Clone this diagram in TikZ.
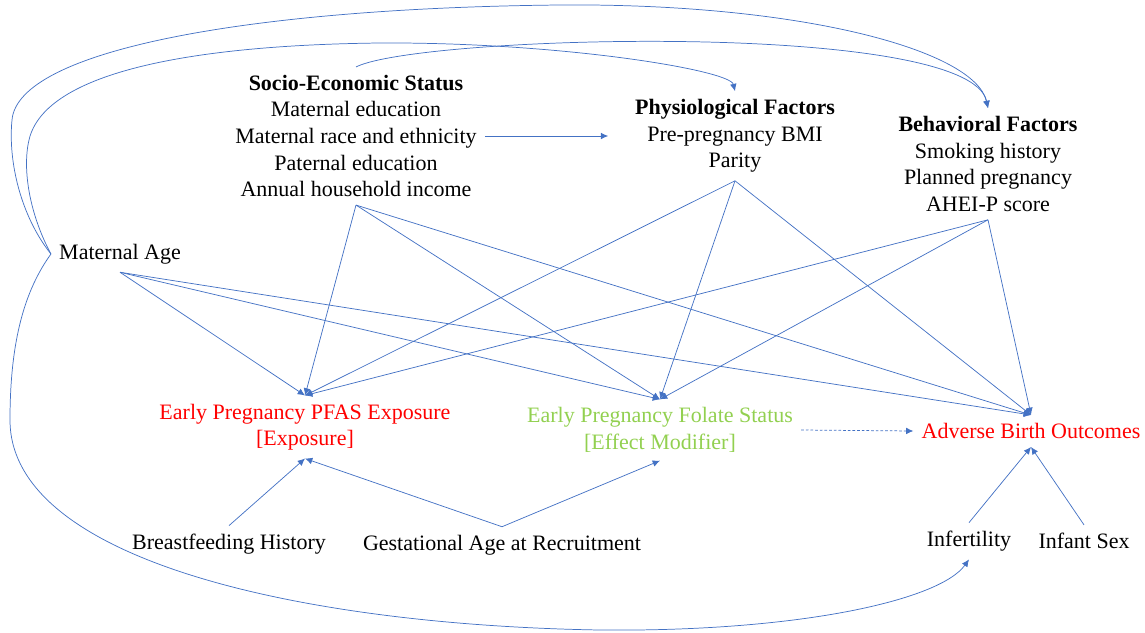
\documentclass[tikz,border=0pt]{standalone}
\usepackage{fontspec}
\setmainfont{Liberation Serif}
\usepackage{tikz}
\usetikzlibrary{arrows.meta, positioning}
\definecolor{linkblue}{HTML}{4472C4}
\definecolor{exposred}{HTML}{FF0000}
\definecolor{modgreen}{HTML}{92D050}
\tikzset{every node/.style={ % Sets the text of every factor
    font=\fontsize{16.5pt}{19.9pt}\selectfont,
    inner sep=6pt},
    link/.style={ % Sets the properties for each causal path
    draw=linkblue,
    line width=0.55pt,
    -{Latex[length=5.5pt,width=5pt]}}}

\begin{document}
\begin{tikzpicture}[x=0.75pt, y=-0.75pt]

        % Define style
        \tikzstyle{factor} = [align=center]
        \tikzstyle{target} = [align=center, text=exposred]

        \useasboundingbox (0,0) rectangle (1145,632);

        % Confounders (top)
        \node[factor] (ses) at (356,136) {\textbf{Socio-Economic Status} \\ Maternal education \\ Maternal race and ethnicity \\ Paternal education \\ Annual household income};
        \node[factor] (phys) at (735,136) {\textbf{Physiological Factors} \\ Pre-pregnancy BMI \\ Parity};
        \node[factor] (behav) at (988,164) {\textbf{Behavioral Factors} \\ Smoking history \\ Planned pregnancy \\ AHEI-P score};
        \node[factor] (ma) at (120,254) {Maternal Age};

        % Exposure, modifier and outcome
        \node[target] (pfas) at (305,427) {Early Pregnancy PFAS Exposure \\ {[Exposure]}};
        \node[factor, text=modgreen] (folate) at (660,430) {Early Pregnancy Folate Status \\ {[Effect Modifier]}};
        \node[target] (abo) at (1031,431) {Adverse Birth Outcomes};

        % Other covariates (bottom)
        \node[factor] (bf) at (229,544) {Breastfeeding History};
        \node[factor] (ga) at (502,545) {Gestational Age at Recruitment};
        \node[factor] (inf) at (969,541) {Infertility};
        \node[factor] (sex) at (1084,541) {Infant Sex};

        % Paths between confounders
        \draw[link] (ma.west) .. controls (20,215) and (8,160) .. (12,120) .. controls (18,50) and (250,8) .. (560,5) .. controls (800,3) and (975,50) .. (behav.north);
        \draw[link] (ma.west) .. controls (30,215) and (22,170) .. (29,140) .. controls (45,70) and (200,45) .. (380,43) .. controls (560,42) and (730,70) .. (phys.north);
        \draw[link] (ses.north) .. controls (420,35) and (970,20) .. (behav.north);
        \draw[link, shorten >=14pt] (ses.east) -- (phys.west);
        \draw[link] (ma.west) .. controls (25,290) and (10,340) .. (10,420) .. controls (10,560) and (300,625) .. (600,630) .. controls (800,632) and (940,600) .. (inf.south);

        % Paths into exposure, modifier and outcome
        \draw[link] (ses.south) -- (pfas.north);
        \draw[link] (ses.south) -- (folate.north);
        \draw[link] (ses.south) -- (abo.north);
        \draw[link] (phys.south) -- (pfas.north);
        \draw[link] (phys.south) -- (folate.north);
        \draw[link] (phys.south) -- (abo.north);
        \draw[link] (behav.south) -- (pfas.north);
        \draw[link] (behav.south) -- (folate.north);
        \draw[link] (behav.south) -- (abo.north);
        \draw[link] (ma.south) -- (pfas.north);
        \draw[link] (ma.south) -- (folate.north);
        \draw[link] (ma.south) -- (abo.north);

        % Bottom covariates
        \draw[link] (bf.north) -- (pfas.south);
        \draw[link] (ga.north) -- (pfas.south);
        \draw[link] (ga.north) -- (folate.south);
        \draw[link] (inf.north) -- (abo.south);
        \draw[link] (sex.north) -- (abo.south);

        % Effect modification
        \draw[link, dash pattern=on 2pt off 1.5pt] (folate.east) -- (abo.west);

    \end{tikzpicture}
\end{document}
